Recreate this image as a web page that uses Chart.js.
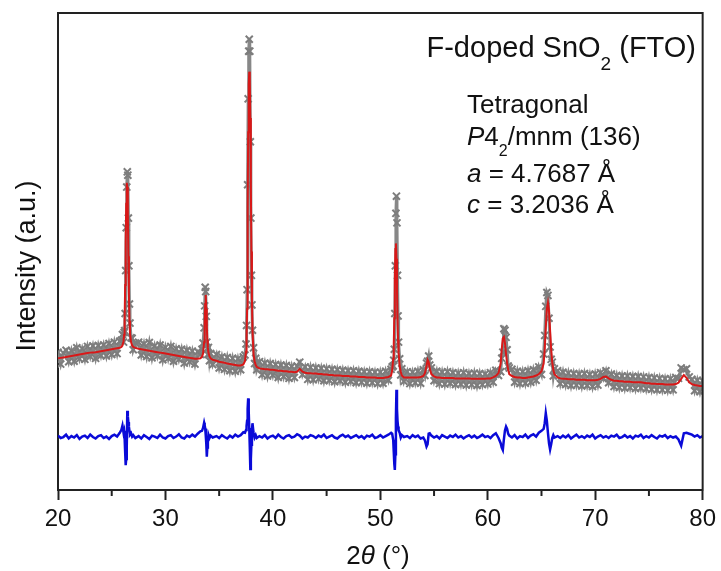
<!DOCTYPE html>
<html>
<head>
<meta charset="utf-8">
<script src="https://cdn.jsdelivr.net/npm/chart.js@4.4.0/dist/chart.umd.min.js"></script>
<style>
  html, body { margin: 0; padding: 0; background: #fff; }
  #wrap { width: 721px; height: 571px; }
</style>
</head>
<body>
<div id="wrap"><canvas id="xrdChart" width="721" height="571"></canvas></div>
<script>
// 2-theta grid (deg); finer steps across the Bragg peaks
const twoTheta = [
  20, 20.25, 20.5, 20.75, 21, 21.25, 21.5, 21.75, 22, 22.25, 22.5, 22.75, 23, 23.25, 23.5, 23.75, 24, 24.25, 24.5, 24.75, 25, 25.25, 25.5, 25.75,
  25.9, 26.0, 26.1, 26.15, 26.2, 26.25, 26.3, 26.35, 26.4, 26.45, 26.5, 26.55, 26.6, 26.65, 26.7, 26.8, 26.9, 27.0, 27.2,
  27.5, 27.75, 28, 28.25, 28.5, 28.75, 29, 29.25, 29.5, 29.75, 30, 30.25, 30.5, 30.75, 31, 31.25, 31.5, 31.75, 32, 32.25, 32.5, 32.75, 33, 33.25,
  33.4, 33.5, 33.6, 33.65, 33.7, 33.75, 33.8, 33.85, 33.9, 33.95, 34.0, 34.1, 34.2, 34.4,
  34.75, 35, 35.25, 35.5, 35.75, 36, 36.25, 36.5, 36.75, 37, 37.25,
  37.4, 37.5, 37.55, 37.6, 37.65, 37.7, 37.75, 37.8, 37.85, 37.9, 37.95, 38.0, 38.05, 38.1, 38.2, 38.3, 38.4, 38.5,
  38.75, 39, 39.25, 39.5, 39.75, 40, 40.25, 40.5, 40.75, 41, 41.25, 41.5, 41.75, 42, 42.25, 42.5, 42.75, 43, 43.25, 43.5, 43.75, 44, 44.25, 44.5, 44.75,
  45, 45.25, 45.5, 45.75, 46, 46.25, 46.5, 46.75, 47, 47.25, 47.5, 47.75, 48, 48.25, 48.5, 48.75, 49, 49.25, 49.5, 49.75, 50, 50.25, 50.5, 50.75, 51,
  51.1, 51.2, 51.25, 51.3, 51.35, 51.4, 51.45, 51.5, 51.55, 51.6, 51.65, 51.7, 51.8, 51.9, 52.0, 52.2,
  52.5, 52.75, 53, 53.25, 53.5, 53.75, 54, 54.15, 54.3, 54.4, 54.5, 54.6, 54.75, 55, 55.25, 55.5, 55.75, 56, 56.25, 56.5, 56.75, 57, 57.25, 57.5, 57.75,
  58, 58.25, 58.5, 58.75, 59, 59.25, 59.5, 59.75, 60, 60.25, 60.5, 60.75, 61,
  61.2, 61.3, 61.4, 61.5, 61.6, 61.7, 61.8, 61.9, 62,
  62.25, 62.5, 62.75, 63, 63.25, 63.5, 63.75, 64, 64.25, 64.5, 64.75, 65,
  65.2, 65.3, 65.4, 65.5, 65.6, 65.7, 65.8, 65.9, 66, 66.1, 66.2,
  66.5, 66.75, 67, 67.25, 67.5, 67.75, 68, 68.25, 68.5, 68.75, 69, 69.25, 69.5, 69.75, 70, 70.25, 70.5, 70.75, 71, 71.25, 71.5, 71.75, 72, 72.25, 72.5,
  72.75, 73, 73.25, 73.5, 73.75, 74, 74.25, 74.5, 74.75, 75, 75.25, 75.5, 75.75, 76, 76.25, 76.5, 76.75, 77, 77.25, 77.5, 77.75, 78, 78.25, 78.5, 78.75,
  79, 79.25, 79.5, 79.75, 80
];

// observed intensity (a.u.)
const yObs = [
  28.9, 26.4, 28.7, 29.3, 26.9, 29.2, 27.0, 29.8, 27.5, 29.6, 27.4, 30.1, 28.0, 30.2, 27.6, 30.3, 28.2, 30.4, 28.1, 30.7, 28.4, 31.0, 28.6, 31.2,
  31.4, 32.6, 31.0, 33.0, 33.4, 37.0, 46.0, 55.0, 63.5, 66.7, 66.0, 57.0, 47.0, 39.0, 35.0, 31.9, 31.8, 29.4, 30.8,
  31.0, 28.3, 30.6, 28.0, 30.9, 27.7, 30.2, 28.1, 30.4, 27.3, 29.9, 27.6, 30.1, 27.0, 29.6, 27.4, 29.5, 26.6, 29.3, 26.9, 29.1, 26.4, 29.0, 28.4,
  29.5, 30.8, 34.0, 38.6, 42.5, 41.6, 36.4, 31.0, 29.6, 28.4, 29.9, 27.1, 28.6, 26.3,
  28.4, 25.6, 27.9, 25.3, 27.8, 25.0, 27.6, 24.9, 27.5, 25.2, 27.9,
  28.3, 30.6, 34.5, 42.0, 64.0, 82.0, 92.0, 94.5, 92.0, 73.0, 57.0, 45.0, 38.8, 33.5, 29.8, 26.5, 27.6, 25.2,
  26.9, 24.2, 26.6, 23.9, 26.5, 24.1, 26.3, 23.6, 26.2, 23.8, 26.1, 23.4, 25.9, 23.6, 26.0, 26.8, 24.2, 25.8, 23.2, 25.7, 23.1, 25.6, 23.3, 25.5, 22.9,
  25.4, 23.0, 25.3, 22.7, 25.2, 22.9, 25.1, 22.6, 25.0, 22.8, 25.0, 22.5, 24.9, 22.6, 24.8, 22.4, 24.8, 22.5, 24.7, 22.3, 24.7, 22.4, 24.9, 23.0, 25.3,
  25.8, 26.0, 27.2, 29.5, 37.0, 47.0, 58.0, 61.6, 56.0, 45.0, 36.5, 31.0, 27.5, 24.1, 25.4, 22.8,
  24.8, 22.3, 24.7, 22.5, 24.9, 22.4, 25.2, 24.0, 26.6, 27.0, 28.1, 26.2, 25.6, 22.9, 24.9, 22.3, 24.7, 22.2, 24.8, 22.4, 24.6, 22.1, 24.5, 22.2, 24.6,
  22.0, 24.4, 22.1, 24.5, 21.9, 24.4, 22.1, 24.3, 22.2, 24.6, 22.6, 25.1, 24.0,
  24.8, 27.6, 28.9, 33.8, 33.5, 32.0, 29.4, 26.0, 25.6,
  25.3, 22.6, 24.9, 22.3, 24.8, 22.4, 25.0, 22.6, 25.2, 23.0, 25.8, 24.2,
  28.5, 32.4, 38.5, 41.4, 40.8, 36.0, 30.0, 27.4, 26.8, 23.9, 25.4,
  25.0, 22.3, 24.7, 22.1, 24.5, 21.9, 24.4, 22.0, 24.3, 21.8, 24.4, 21.9, 24.2, 21.7, 24.3, 22.0, 24.6, 23.3, 25.0, 22.5, 24.3, 21.7, 24.0, 21.5, 23.9,
  21.4, 23.9, 21.5, 23.8, 21.3, 23.8, 21.4, 23.7, 21.2, 23.6, 21.1, 23.5, 21.0, 23.4, 21.0, 23.3, 20.9, 23.3, 21.0, 23.6, 23.4, 25.6, 25.2, 25.4, 23.7,
  23.2, 20.8, 23.0, 20.6, 22.9
];

// calculated (Rietveld fit)
const yCalc = [
  27.6, 27.7, 27.8, 27.9, 28.0, 28.1, 28.2, 28.3, 28.4, 28.5, 28.6, 28.7, 28.8, 28.85, 28.9, 29.0, 29.1, 29.2, 29.3, 29.4, 29.5, 29.6, 29.7, 29.8,
  30.0, 30.3, 31.2, 32.5, 35.5, 43.0, 52.0, 60.0, 64.4, 63.5, 58.0, 49.0, 41.0, 35.5, 32.8, 31.0, 30.3, 30.0, 29.8,
  29.6, 29.5, 29.4, 29.3, 29.2, 29.1, 29.0, 28.9, 28.8, 28.7, 28.6, 28.5, 28.4, 28.3, 28.2, 28.1, 28.0, 27.9, 27.8, 27.7, 27.6, 27.5, 27.5, 27.6,
  27.9, 28.6, 31.0, 34.5, 39.0, 40.9, 38.0, 34.2, 31.5, 29.8, 28.8, 28.0, 27.6, 27.3,
  27.1, 26.9, 26.8, 26.7, 26.5, 26.4, 26.3, 26.2, 26.1, 26.1, 26.3,
  27.0, 29.0, 32.0, 38.0, 58.0, 75.0, 85.0, 87.7, 86.0, 78.0, 64.0, 50.0, 40.0, 33.5, 28.5, 27.0, 26.2, 25.8,
  25.5, 25.4, 25.3, 25.3, 25.2, 25.2, 25.1, 25.0, 25.0, 24.9, 24.9, 24.8, 24.8, 24.7, 24.8, 25.4, 24.8, 24.6, 24.5, 24.5, 24.4, 24.4, 24.3, 24.3, 24.2,
  24.2, 24.1, 24.1, 24.0, 24.0, 24.0, 23.9, 23.9, 23.9, 23.8, 23.8, 23.8, 23.7, 23.7, 23.7, 23.6, 23.6, 23.6, 23.6, 23.5, 23.5, 23.5, 23.6, 23.7, 24.0,
  25.0, 27.5, 30.5, 36.0, 44.0, 50.5, 51.7, 48.5, 42.0, 36.0, 31.5, 28.8, 26.0, 24.8, 24.0, 23.6,
  23.6, 23.6, 23.6, 23.6, 23.6, 23.7, 23.9, 24.5, 26.0, 27.3, 26.8, 25.4, 24.3, 23.8, 23.6, 23.6, 23.5, 23.5, 23.5, 23.5, 23.5, 23.4, 23.4, 23.4, 23.4,
  23.4, 23.4, 23.3, 23.3, 23.3, 23.3, 23.3, 23.3, 23.4, 23.4, 23.6, 23.9, 24.5,
  26.5, 29.5, 31.8, 32.1, 30.8, 28.5, 26.6, 25.2, 24.3,
  23.9, 23.7, 23.6, 23.6, 23.5, 23.5, 23.6, 23.7, 23.8, 24.0, 24.3, 24.9,
  26.5, 29.5, 34.0, 38.0, 39.3, 37.5, 33.5, 29.5, 26.8, 25.2, 24.3,
  23.6, 23.4, 23.3, 23.3, 23.2, 23.2, 23.2, 23.1, 23.1, 23.1, 23.1, 23.0, 23.0, 23.0, 23.0, 23.1, 23.3, 23.7, 23.8, 23.4, 23.1, 22.9, 22.9, 22.8, 22.8,
  22.7, 22.7, 22.7, 22.6, 22.6, 22.6, 22.6, 22.5, 22.4, 22.4, 22.3, 22.3, 22.2, 22.2, 22.2, 22.1, 22.1, 22.1, 22.1, 22.2, 22.5, 23.3, 24.1, 23.5, 22.6,
  22.2, 22.0, 21.9, 21.8, 21.8
];

// difference curve (obs - calc, offset below the pattern)
const yDiff = [
  11.4, 10.9, 11.1, 11.6, 10.8, 11.3, 11.0, 11.5, 10.7, 11.2, 11.4, 10.9, 11.6, 11.1, 10.8, 11.3, 11.5, 10.9, 11.2, 10.7, 11.3, 11.6, 11.2, 12.0,
  12.6, 13.5, 12.0, 12.4, 10.9, 8.0, 5.2, 6.5, 9.0, 16.6, 15.5, 14.2, 13.3, 12.4, 11.6, 11.9, 11.2, 11.5, 10.9,
  11.3, 10.8, 11.5, 11.1, 10.7, 11.4, 11.2, 10.9, 11.6, 11.0, 10.8, 11.3, 11.5, 10.9, 11.2, 11.7, 11.0, 10.8, 11.4, 11.1, 11.6, 11.2, 11.8, 12.3,
  12.4, 13.0, 14.1, 13.6, 12.9, 11.5, 9.8, 7.0, 8.9, 10.2, 11.6, 10.9, 11.4, 11.0,
  11.3, 10.9, 11.5, 11.1, 10.8, 11.4, 11.0, 11.6, 11.2, 11.5, 12.1,
  12.0, 12.6, 13.4, 14.5, 17.0, 19.2, 16.5, 13.0, 9.0, 4.4, 6.5, 9.5, 12.5, 14.0, 12.0, 11.0, 11.5, 10.9,
  11.3, 11.0, 11.5, 10.8, 11.2, 11.4, 10.9, 11.6, 11.1, 10.8, 11.3, 11.5, 11.0, 11.2, 11.7, 11.4, 10.8, 11.2, 11.0, 11.5, 11.3, 10.9, 11.4, 11.1, 11.6,
  10.9, 11.2, 11.5, 11.0, 10.8, 11.3, 11.6, 11.1, 11.4, 10.9, 11.2, 11.5, 11.0, 11.3, 10.8, 11.4, 11.2, 11.6, 10.9, 11.1, 11.5, 11.0, 11.3, 11.6, 12.0,
  11.8, 10.5, 8.0, 5.5, 4.2, 7.5, 15.0, 21.0, 17.0, 14.5, 13.3, 12.5, 12.0, 11.0, 11.5, 11.1,
  11.3, 10.9, 11.5, 11.1, 11.4, 10.8, 11.0, 10.4, 9.1, 9.6, 11.8, 11.9, 11.4, 11.0, 11.3, 10.8, 11.5, 11.2, 10.9, 11.4, 11.1, 11.6, 11.0, 11.3, 10.8,
  11.2, 11.5, 11.0, 11.4, 10.9, 11.2, 11.6, 11.1, 11.3, 10.9, 11.5, 11.9, 10.9,
  9.8, 8.9, 8.4, 10.6, 12.5, 13.3, 12.8, 11.8, 11.4,
  11.0, 11.5, 10.8, 11.3, 11.1, 11.6, 10.9, 11.4, 11.7, 11.2, 12.0, 12.4,
  12.8, 14.0, 16.1, 14.5, 12.0, 9.8, 8.5, 9.6, 10.9, 11.5, 11.0,
  11.3, 10.9, 11.4, 11.0, 11.5, 10.8, 11.2, 11.6, 11.0, 11.3, 10.9, 11.4, 11.1, 11.6, 10.8, 11.2, 11.5, 11.0, 11.3, 10.9, 11.4, 11.2, 11.6, 10.9, 11.1,
  11.5, 11.0, 11.3, 10.8, 11.4, 11.2, 11.6, 10.9, 11.3, 11.0, 11.5, 11.1, 10.8, 11.4, 11.2, 11.5, 10.9, 11.3, 11.0, 11.2, 10.6, 9.3, 11.9, 12.0, 11.8,
  11.6, 11.2, 11.5, 11.0, 11.3
];

const minorTicks = [25, 35, 45, 55, 65, 75];

// text blocks: runs of [text, style]  (n = normal, i = italic, sub = subscript)
const sampleLabel = [["F-doped SnO", "n"], ["2", "sub"], [" (FTO)", "n"]];
const phaseLines = [
  [["Tetragonal", "n"]],
  [["P", "i"], ["4", "n"], ["2", "sub"], ["/mnm (136)", "n"]],
  [["a", "i"], [" = 4.7687 Å", "n"]],
  [["c", "i"], [" = 3.2036 Å", "n"]]
];
const xTitle = [["2", "n"], ["θ", "i"], [" (°)", "n"]];
const yTitle = "Intensity (a.u.)";

const FONT = "'Liberation Sans', Arial, sans-serif";

function runFont(style, size, subSize) {
  if (style === "i") return "italic " + size + "px " + FONT;
  if (style === "sub") return subSize + "px " + FONT;
  return size + "px " + FONT;
}

function drawRuns(c, runs, x, y, size, subSize, subDrop, align) {
  c.save();
  c.textBaseline = "alphabetic";
  c.textAlign = "left";
  let total = 0;
  runs.forEach(r => { c.font = runFont(r[1], size, subSize); total += c.measureText(r[0]).width; });
  let cx = align === "right" ? x - total : align === "center" ? x - total / 2 : x;
  runs.forEach(r => {
    c.font = runFont(r[1], size, subSize);
    c.fillText(r[0], cx, r[1] === "sub" ? y + subDrop : y);
    cx += c.measureText(r[0]).width;
  });
  c.restore();
}

const decorPlugin = {
  id: "decor",
  afterDraw(chart) {
    const c = chart.ctx;
    const a = chart.chartArea;
    const xs = chart.scales.x;
    c.save();
    c.strokeStyle = "#222";
    c.lineWidth = 2;
    c.beginPath();
    c.moveTo(a.left - 1, a.top);
    c.lineTo(a.right, a.top);
    c.lineTo(a.right, a.bottom + 1);
    c.stroke();
    // minor ticks
    minorTicks.forEach(v => {
      const px = xs.getPixelForValue(v);
      c.beginPath();
      c.moveTo(px, a.bottom);
      c.lineTo(px, a.bottom + 6);
      c.stroke();
    });
    c.fillStyle = "#111";
    drawRuns(c, sampleLabel, 696, 57, 29, 19, 13, "right");
    const baselines = [113, 145, 182, 213];
    phaseLines.forEach((line, i) => drawRuns(c, line, 467, baselines[i], 26, 16, 11, "left"));
    drawRuns(c, xTitle, 378, 564, 26, 18, 8, "center");
    c.translate(35, 266);
    c.rotate(-Math.PI / 2);
    c.font = "27px " + FONT;
    c.textAlign = "center";
    c.textBaseline = "alphabetic";
    c.fillText(yTitle, 0, 0);
    c.restore();
  }
};

const toPoints = ys => twoTheta.map((x, i) => ({ x: x, y: ys[i] }));

const ctx = document.getElementById("xrdChart").getContext("2d");

const xrdChart = new Chart(ctx, {
  type: "scatter",
  data: {
    datasets: [
      {
        label: "Calculated",
        data: toPoints(yCalc),
        showLine: true,
        borderColor: "#d81818",
        borderWidth: 2,
        pointRadius: 0,
        order: 1
      },
      {
        label: "Observed",
        data: toPoints(yObs),
        showLine: true,
        borderColor: "#878787",
        borderWidth: 3,
        pointStyle: "crossRot",
        pointRadius: 5,
        pointBorderWidth: 2,
        pointBorderColor: "#7d7d7d",
        pointBackgroundColor: "#7d7d7d",
        order: 2
      },
      {
        label: "Difference",
        data: toPoints(yDiff),
        showLine: true,
        borderColor: "#0a0ad8",
        borderWidth: 2.5,
        pointRadius: 0,
        order: 3
      }
    ]
  },
  options: {
    responsive: false,
    animation: false,
    devicePixelRatio: 1,
    layout: { padding: { top: 13, right: 15, left: 0, bottom: 0 } },
    plugins: {
      legend: { display: false },
      tooltip: { enabled: false }
    },
    scales: {
      x: {
        type: "linear",
        min: 20,
        max: 80,
        afterFit: s => { s.height = 81; },
        ticks: {
          stepSize: 10,
          color: "#111",
          padding: 5,
          maxRotation: 0,
          font: { family: FONT, size: 24 }
        },
        grid: { drawOnChartArea: false, tickLength: 10, tickColor: "#222", tickWidth: 2 },
        border: { color: "#222", width: 2 }
      },
      y: {
        min: 0,
        max: 100,
        afterFit: s => { s.width = 58; },
        ticks: { display: false },
        grid: { display: false },
        border: { color: "#222", width: 2 }
      }
    }
  },
  plugins: [decorPlugin]
});
</script>
</body>
</html>
